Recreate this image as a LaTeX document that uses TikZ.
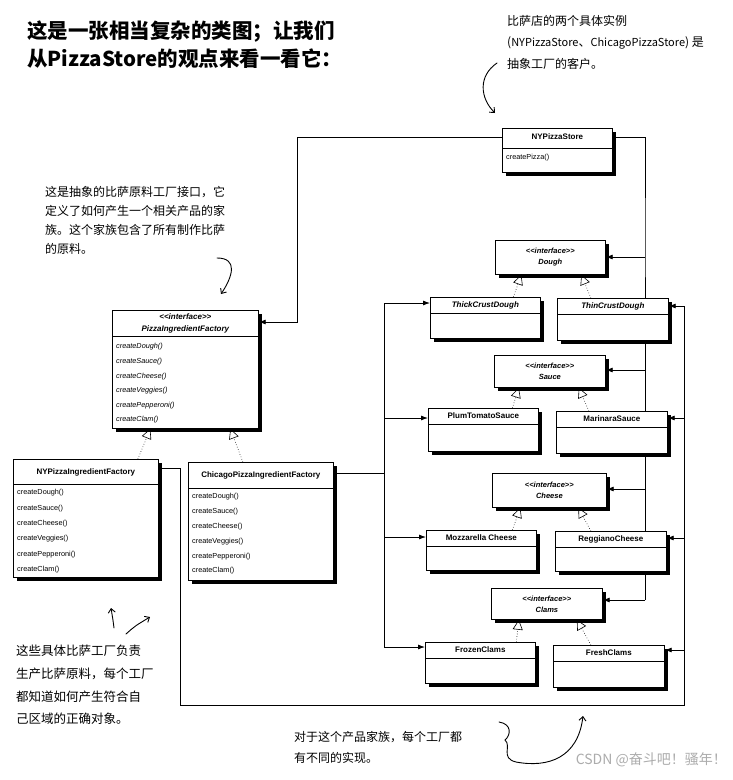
\documentclass[tikz,border=0pt]{standalone}
\usepackage{fontspec}
\setmainfont{Liberation Sans}
\newfontfamily\cjk{Noto Sans CJK SC}
\usetikzlibrary{arrows.meta, positioning}
\newcommand{\stereo}[1]{<{}<#1>{}>}
\tikzset{
  cls/.style={
    rectangle,
    draw=black,
    line width=0.7pt,
    fill=white,
    inner sep=0pt,
    anchor=north west,
    preaction={fill=black, transform canvas={shift={(3.5pt,-3.5pt)}}}
  },
  iface/.style={
    cls,
    align=center,
    font=\fontsize{7.5}{11}\selectfont\bfseries\itshape
  },
  clsname/.style={anchor=north, inner sep=0pt, font=\fontsize{8}{9}\selectfont\bfseries},
  meth/.style={anchor=west, inner sep=0pt, font=\fontsize{7.3}{9}\selectfont},
  sep/.style={line width=0.5pt},
  link/.style={line width=0.8pt},
  arrow/.style={line width=0.8pt, -{Latex[length=7pt,width=5pt]}},
  impl/.style={dotted, line width=0.6pt, -{Triangle[open, length=10pt, width=10pt]}},
  note/.style={anchor=north west, inner sep=0pt, align=left},
  hand/.style={line width=0.9pt, line cap=round, -{Straight Barb[length=4pt, width=7pt]}}
}

\begin{document}
\begin{tikzpicture}[x=1pt, y=-1pt]
  \fill[white] (0,0) rectangle (733,780);
  \useasboundingbox (0,0) rectangle (733,780);

  % notes
  \node[note, font=\cjk\bfseries\fontsize{20.5}{28}\selectfont] (title) at (27,21)
    {这是一张相当复杂的类图；让我们\\从PizzaStore的观点来看一看它：};
  \node[note, font=\cjk\fontsize{12}{21.5}\selectfont] (clientnote) at (507,15)
    {比萨店的两个具体实例\\({\fontsize{11}{12}\selectfont NYPizzaStore}、{\fontsize{11}{12}\selectfont ChicagoPizzaStore}) 是\\抽象工厂的客户。};
  \node[note, font=\cjk\fontsize{12}{19.2}\selectfont] (ifacenote) at (45,186)
    {这是抽象的比萨原料工厂接口，它\\定义了如何产生一个相关产品的家\\族。这个家族包含了所有制作比萨\\的原料。};
  \node[note, font=\cjk\fontsize{12.5}{22.7}\selectfont] (concnote) at (16,645)
    {这些具体比萨工厂负责\\生产比萨原料，每个工厂\\都知道如何产生符合自\\己区域的正确对象。};
  \node[note, font=\cjk\fontsize{12}{21}\selectfont] (prodnote) at (294,731)
    {对于这个产品家族，每个工厂都\\有不同的实现。};
  \node[anchor=east, inner sep=0pt, font=\cjk\fontsize{14}{14}\selectfont, text=gray!65] (wm) at (727,760)
    {CSDN @奋斗吧！骚年！};

  % store
  \node[cls, minimum width=110pt, minimum height=44pt] (nystore) at (502,128) {};
  \node[clsname] (nystore-t) at ([yshift=-5pt]nystore.north) {NYPizzaStore};
  \draw[sep] ([yshift=-20pt]nystore.north west) -- ([yshift=-20pt]nystore.north east);
  \node[meth] (nystore-m) at ([xshift=4pt,yshift=-30pt]nystore.north west) {createPizza()};

  % factories
  \node[cls, minimum width=146pt, minimum height=118pt] (absfac) at (112,310) {};
  \node[clsname, align=center, font=\fontsize{8}{12.5}\selectfont\bfseries\itshape] (absfac-t)
    at ([yshift=-3pt]absfac.north) {\stereo{interface}\\PizzaIngredientFactory};
  \draw[sep] ([yshift=-26pt]absfac.north west) -- ([yshift=-26pt]absfac.north east);
  \foreach \m [count=\i] in {createDough(), createSauce(), createCheese(), createVeggies(), createPepperoni(), createClam()}
    \node[meth, font=\fontsize{7.3}{9}\selectfont\itshape] (absfac-m\i)
      at ([xshift=4pt,yshift={-37pt-(\i-1)*14.6pt}]absfac.north west) {\m};

  \node[cls, minimum width=145pt, minimum height=118pt] (nyfac) at (13,459) {};
  \node[clsname] (nyfac-t) at ([yshift=-9pt]nyfac.north) {NYPizzaIngredientFactory};
  \draw[sep] ([yshift=-25pt]nyfac.north west) -- ([yshift=-25pt]nyfac.north east);
  \foreach \m [count=\i] in {createDough(), createSauce(), createCheese(), createVeggies(), createPepperoni(), createClam()}
    \node[meth] (nyfac-m\i) at ([xshift=4pt,yshift={-34pt-(\i-1)*15.3pt}]nyfac.north west) {\m};

  \node[cls, minimum width=145pt, minimum height=118pt] (chifac) at (188,462) {};
  \node[clsname] (chifac-t) at ([yshift=-9pt]chifac.north) {ChicagoPizzaIngredientFactory};
  \draw[sep] ([yshift=-26pt]chifac.north west) -- ([yshift=-26pt]chifac.north east);
  \foreach \m [count=\i] in {createDough(), createSauce(), createCheese(), createVeggies(), createPepperoni(), createClam()}
    \node[meth] (chifac-m\i) at ([xshift=4pt,yshift={-35pt-(\i-1)*14.8pt}]chifac.north west) {\m};

  % products
  \node[iface, minimum width=110pt, minimum height=34pt] (dough) at (495,240) {\stereo{interface}\\Dough};
  \node[iface, minimum width=111pt, minimum height=32pt] (sauce) at (494,355) {\stereo{interface}\\Sauce};
  \node[iface, minimum width=114pt, minimum height=34pt] (cheese) at (492,473) {\stereo{interface}\\Cheese};
  \node[iface, minimum width=111pt, minimum height=31pt] (clams) at (491,588) {\stereo{interface}\\Clams};

  \foreach \n/\x/\y/\w/\h/\t in {
      thick/430/297/110/41/\itshape ThickCrustDough,
      thin/557/298/111/42/\itshape ThinCrustDough,
      plum/428/408/110/43/PlumTomatoSauce,
      marinara/556/411/111/42/MarinaraSauce,
      mozza/426/530/110/40/Mozzarella Cheese,
      reggiano/555/531/111/40/ReggianoCheese,
      frozen/425/642/110/41/FrozenClams,
      fresh/553/645/111/42/FreshClams} {
    \node[cls, minimum width=\w pt, minimum height=\h pt] (\n) at (\x,\y) {};
    \node[clsname] (\n-t) at ([yshift=-4pt]\n.north) {\t};
    \draw[sep] ([yshift=-16pt]\n.north west) -- ([yshift=-16pt]\n.north east);
  }

  % implements
  \draw[impl] ([xshift=52pt]nyfac.north) -- ([xshift=-35pt]absfac.south);
  \draw[impl] ([xshift=-18pt]chifac.north) -- ([xshift=45pt]absfac.south);
  \draw[impl] ([xshift=28pt]thick.north) -- ([xshift=-29pt]dough.south);
  \draw[impl] ([xshift=-22pt]thin.north) -- ([xshift=31pt]dough.south);
  \draw[impl] ([xshift=29pt]plum.north) -- ([xshift=-31pt]sauce.south);
  \draw[impl] ([xshift=-23pt]marinara.north) -- ([xshift=29pt]sauce.south);
  \draw[impl] ([xshift=31pt]mozza.north) -- ([xshift=-29pt]cheese.south);
  \draw[impl] ([xshift=-20pt]reggiano.north) -- ([xshift=29pt]cheese.south);
  \draw[impl] ([xshift=36pt]frozen.north) -- ([xshift=-28pt]clams.south);
  \draw[impl] ([xshift=-18pt]fresh.north) -- ([xshift=30pt]clams.south);

  % store uses factory and products
  \coordinate (s0) at (297,322);
  \draw[arrow] (nystore.west |- 0,137) -| (s0) -- (absfac.east |- s0);
  \coordinate (r1) at (645,257);
  \coordinate (r2) at (645,370);
  \coordinate (r3) at (645,489);
  \coordinate (r4) at (645,600);
  \draw[link] (nystore.east |- 0,137) -| (r1) -- (thin.north -| r1);
  \draw[arrow] (r1) -- (dough.east |- r1);
  \draw[link] (thin.south -| r2) -- (marinara.north -| r2);
  \draw[arrow] (r2) -- (sauce.east |- r2);
  \draw[link] (marinara.south -| r3) -- (reggiano.north -| r3);
  \draw[arrow] (r3) -- (cheese.east |- r3);
  \draw[link] (reggiano.south -| r4) -- (r4);
  \draw[arrow] (r4) -- (clams.east |- r4);

  % chicago factory
  \coordinate (c0) at (384,473);
  \coordinate (c1) at (384,303);
  \coordinate (c2) at (384,418);
  \coordinate (c3) at (384,537);
  \coordinate (c4) at (384,647);
  \draw[link] (chifac.east |- c0) -- (c0);
  \draw[link] (c1) -- (c4);
  \draw[arrow] (c1) -- (thick.west |- c1);
  \draw[arrow] (c2) -- (plum.west |- c2);
  \draw[arrow] (c3) -- (mozza.west |- c3);
  \draw[arrow] (c4) -- (frozen.west |- c4);

  % ny factory
  \coordinate (n0) at (180,468);
  \coordinate (n1) at (180,705);
  \coordinate (n2) at (684,705);
  \coordinate (n3) at (684,306);
  \coordinate (n4) at (684,418);
  \coordinate (n5) at (684,538);
  \coordinate (n6) at (684,650);
  \draw[link] (nyfac.east |- n0) -- (n0) -- (n1) -- (n2) -- (n3);
  \draw[arrow] (n3) -- (thin.east |- n3);
  \draw[arrow] (n4) -- (marinara.east |- n4);
  \draw[arrow] (n5) -- (reggiano.east |- n5);
  \draw[arrow] (n6) -- (fresh.east |- n6);

  % hand arrows
  \draw[hand] (497,63) .. controls (478,76) and (480,98) .. (495,113);
  \draw[hand] (217,258) .. controls (238,258) and (233,276) .. (221,294);
  \draw[hand] (114,628) .. controls (113,620) .. (111,608);
  \draw[hand] (126,634) .. controls (135,626) .. (150,617);
  \draw[hand] (499,722) .. controls (512,724) and (511,735) .. (505,740)
    .. controls (512,746) and (500,758) .. (516,762)
    .. controls (548,768) and (578,758) .. (583,716);
\end{tikzpicture}
\end{document}
